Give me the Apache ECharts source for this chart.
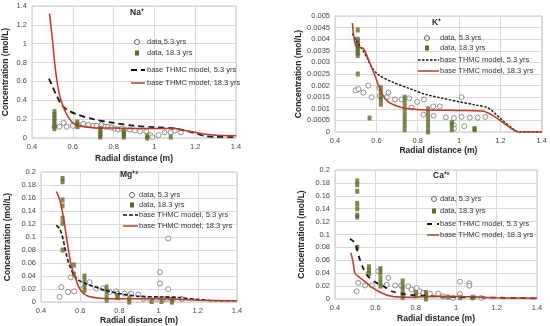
<!DOCTYPE html>
<html><head><meta charset="utf-8">
<script src="https://cdn.jsdelivr.net/npm/echarts@6/dist/echarts.min.js"></script>
<style>html,body{margin:0;padding:0;background:#fff}#c{width:550px;height:326px}</style>
</head><body><div id="c"></div>
<script>
// ---------- DATA ----------
const xTicks = [0.4, 0.6, 0.8, 1.0, 1.2, 1.4];
const panelTitles = ['Na\u207A', 'K\u207A', 'Mg\u207A\u00B2', 'Ca\u207A\u00B2'];
const seriesNames = ['data, 5.3 yrs', 'data, 18.3 yrs', 'base THMC model, 5.3 yrs', 'base THMC model, 18.3 yrs'];
const naLegendNames = ['data,5.3 yrs', 'data, 18.3 yrs', 'base THMC model, 5.3 yrs', 'base THMC model, 18.3 yrs'];

// Na+
const naData53 = [[0.51,0.12],[0.535,0.12],[0.555,0.16],[0.57,0.12],[0.6,0.13],[0.627,0.13],[0.651,0.15],[0.676,0.14],[0.7,0.13],[0.716,0.13],[0.741,0.14],[0.76,0.12],[0.773,0.12],[0.79,0.11],[0.806,0.1],[0.822,0.09],[0.84,0.1],[0.855,0.09],[0.88,0.09],[0.904,0.08],[0.93,0.07],[0.96,0.07],[0.98,0.03],[0.99,0.01],[1.02,0.03],[1.05,0.06],[1.08,0.06],[1.1,0.08],[1.13,0.06]];
const naData183 = [[0.51,0.1],[0.51,0.13],[0.51,0.16],[0.51,0.19],[0.51,0.22],[0.51,0.25],[0.51,0.28],[0.622,0.12],[0.622,0.15],[0.622,0.17],[0.735,0.01],[0.735,0.03],[0.735,0.05],[0.735,0.08],[0.735,0.1],[0.85,0.01],[0.85,0.03],[0.85,0.05],[0.85,0.07],[0.965,0.0],[0.965,0.02],[1.08,0.01]];
const naModel53 = [[0.483,0.63],[0.5,0.55],[0.52,0.45],[0.55,0.34],[0.58,0.29],[0.62,0.25],[0.7,0.2],[0.8,0.16],[0.9,0.13],[1.0,0.115],[1.1,0.1],[1.15,0.08],[1.2,0.05],[1.25,0.02],[1.3,0.012],[1.4,0.01]];
const naModel183 = [[0.486,1.32],[0.5,1.05],[0.513,0.76],[0.525,0.57],[0.537,0.44],[0.55,0.35],[0.57,0.25],[0.6,0.16],[0.63,0.13],[0.7,0.11],[0.8,0.105],[0.9,0.1],[1.0,0.1],[1.1,0.1],[1.15,0.08],[1.2,0.06],[1.25,0.04],[1.3,0.03],[1.4,0.025]];

// K+
const kData53 = [[0.5,0.0018],[0.513,0.00185],[0.537,0.0017],[0.561,0.002],[0.577,0.0015],[0.614,0.0019],[0.617,0.00155],[0.65,0.0015],[0.658,0.0017],[0.69,0.0014],[0.722,0.0014],[0.759,0.00145],[0.77,0.00105],[0.797,0.0013],[0.827,0.00075],[0.83,0.0014],[0.875,0.0011],[0.877,0.0007],[0.907,0.0011],[0.936,0.00063],[0.975,0.0006],[0.975,0.0003],[0.975,0.00015],[1.012,0.0015],[1.012,0.00065],[1.025,0.00025],[1.052,0.00062],[1.09,0.00062],[1.127,0.00065]];
const kData183 = [[0.51,0.0044],[0.51,0.004],[0.51,0.0039],[0.51,0.0038],[0.51,0.0037],[0.51,0.0036],[0.51,0.0035],[0.51,0.0034],[0.51,0.0033],[0.51,0.0025],[0.567,0.0006],[0.622,0.0019],[0.622,0.0017],[0.622,0.0015],[0.622,0.0014],[0.622,0.0012],[0.737,0.0015],[0.737,0.0013],[0.737,0.0011],[0.737,0.0009],[0.737,0.0007],[0.737,0.0005],[0.737,0.0003],[0.737,0.0001],[0.85,0.001],[0.85,0.0008],[0.85,0.0006],[0.85,0.0004],[0.85,0.0002],[0.85,0.0],[0.965,0.0004],[0.965,0.0003],[0.965,0.0001],[1.075,0.0001],[1.075,0.00015]];
const kModel53 = [[0.484,0.00424],[0.505,0.0039],[0.529,0.0036],[0.555,0.0032],[0.577,0.0028],[0.61,0.00246],[0.674,0.00217],[0.755,0.00189],[0.835,0.00163],[0.916,0.00146],[0.997,0.00131],[1.077,0.00117],[1.142,0.00103],[1.206,0.00053],[1.271,0.00007],[1.29,0],[1.4,0]];
const kModel183 = [[0.484,0.0047],[0.494,0.00396],[0.505,0.00367],[0.537,0.0036],[0.569,0.00296],[0.594,0.0024],[0.626,0.00167],[0.658,0.0013],[0.706,0.0011],[0.755,0.001],[0.85,0.00095],[1.0,0.00093],[1.11,0.00091],[1.158,0.00074],[1.239,0.00024],[1.287,0],[1.4,0]];

// Mg+2
const mgData53 = [[0.495,0.008],[0.504,0.023],[0.538,0.0155],[0.552,0.038],[0.569,0.0165],[0.614,0.0206],[0.648,0.0306],[0.682,0.021],[0.716,0.021],[0.75,0.0155],[0.784,0.0165],[0.79,0.013],[0.827,0.013],[0.854,0.0116],[0.861,0.013],[0.896,0.0116],[0.922,0.005],[0.956,0.005],[0.99,0.005],[1.007,0.046],[1.007,0.0286],[1.024,0.005],[1.041,0.005],[1.049,0.0977],[1.049,0.02],[1.075,0.005],[1.118,0.005]];
const mgData183 = [[0.51,0.19],[0.51,0.185],[0.51,0.157],[0.51,0.148],[0.51,0.129],[0.51,0.121],[0.51,0.08],[0.568,0.057],[0.568,0.043],[0.622,0.04],[0.622,0.033],[0.622,0.025],[0.622,0.018],[0.735,0.023],[0.735,0.016],[0.735,0.008],[0.735,0.003],[0.79,0.01],[0.79,0.007],[0.85,0.005],[0.85,0.0],[0.965,0.001],[1.015,0.001],[1.068,0.004],[1.068,0.0]];
const mgModel53 = [[0.478,0.118],[0.495,0.113],[0.51,0.1],[0.53,0.072],[0.545,0.057],[0.565,0.043],[0.59,0.034],[0.63,0.028],[0.68,0.023],[0.73,0.018],[0.8,0.013],[0.9,0.009],[1.0,0.008],[1.1,0.007],[1.2,0.004],[1.3,0.002],[1.4,0.002]];
const mgModel183 = [[0.478,0.17],[0.49,0.162],[0.5,0.152],[0.51,0.138],[0.52,0.12],[0.53,0.1],[0.54,0.08],[0.55,0.063],[0.56,0.05],[0.575,0.038],[0.59,0.025],[0.61,0.015],[0.64,0.009],[0.7,0.006],[0.8,0.005],[1.0,0.005],[1.2,0.003],[1.4,0.002]];

// Ca+2
const caData53 = [[0.507,0.012],[0.515,0.025],[0.549,0.021],[0.565,0.039],[0.582,0.021],[0.614,0.043],[0.656,0.022],[0.664,0.0326],[0.698,0.021],[0.728,0.021],[0.763,0.0197],[0.779,0.0145],[0.804,0.017],[0.82,0.012],[0.837,0.0093],[0.87,0.008],[0.911,0.0083],[0.935,0.004],[0.985,0.0016],[1.019,0.0268],[1.018,0.0078],[1.065,0.0243],[1.065,0.0206],[1.084,0.0026],[1.125,0.0016]];
const caData183 = [[0.51,0.183],[0.51,0.177],[0.51,0.167],[0.51,0.148],[0.51,0.14],[0.51,0.13],[0.51,0.127],[0.51,0.08],[0.568,0.05],[0.568,0.045],[0.568,0.04],[0.625,0.047],[0.625,0.04],[0.625,0.032],[0.625,0.025],[0.625,0.02],[0.735,0.028],[0.735,0.02],[0.735,0.013],[0.735,0.007],[0.735,0.002],[0.8,0.01],[0.8,0.005],[0.85,0.01],[0.85,0.005],[0.85,0.0],[0.96,0.003],[1.02,0.002],[1.08,0.002]];
const caModel53 = [[0.474,0.093],[0.499,0.087],[0.515,0.069],[0.535,0.051],[0.556,0.038],[0.581,0.03],[0.606,0.025],[0.639,0.02],[0.68,0.012],[0.762,0.0067],[0.9,0.004],[1.0,0.003],[1.2,0.002],[1.4,0.001]];
const caModel183 = [[0.479,0.0715],[0.49,0.056],[0.499,0.04],[0.524,0.033],[0.556,0.025],[0.589,0.017],[0.631,0.0093],[0.68,0.0041],[0.762,0.0026],[0.9,0.004],[1.0,0.004],[1.1,0.003],[1.2,0.002],[1.4,0.001]];

const yMax = [1.4, 0.005, 0.2, 0.2];
const yStep = [0.2, 0.0005, 0.02, 0.02];

// ---------- LAYOUT / STYLE ----------
const FONT = 'Liberation Sans, Arial, sans-serif';
const CIRCLE_C = '#666', SQUARE_C = '#5e6a26', DASH_C = '#111', SOLID_C = '#a2452a';
const grids = [
  {left:32, top:6, width:204, height:132},
  {left:335, top:16, width:207, height:116},
  {left:41, top:172, width:196, height:133},
  {left:335, top:170, width:202, height:129}
];
const yNameGap = [22, 30, 29, 29];
const xNameGap = [16, 14, 12, 15];
const dashes = [[6,4],[2.5,1.5],[4,2],[5,5]];
const dashW = [1.8,1.4,1.6,1.8];
// legend layout: symbol x, line x0/x1, text x, row y's
const legendLayout = [
  {sx:137, lx0:131, lx1:145, tx:147, ys:[42,53,70,83]},
  {sx:427, lx0:418, lx1:439, tx:440, ys:[38,48,60,71]},
  {sx:132, lx0:123, lx1:138, tx:139, ys:[195,205,215,226]},
  {sx:434, lx0:427, lx1:439, tx:440, ys:[199,211,224,235]}
];
const titlePos = [[130,8],[432,18],[120,170],[433,171]];

const allData = [
  [naData53, naData183, naModel53, naModel183],
  [kData53, kData183, kModel53, kModel183],
  [mgData53, mgData183, mgModel53, mgModel183],
  [caData53, caData183, caModel53, caModel183]
];

const graphics = [];
legendLayout.forEach((L,i)=>{
  const names = i===0 ? naLegendNames : seriesNames;
  graphics.push({type:'circle', z:100, shape:{cx:L.sx, cy:L.ys[0], r:2.5}, style:{fill:'#fff', stroke:CIRCLE_C, lineWidth:1}});
  graphics.push({type:'rect', z:100, shape:{x:L.sx-2, y:L.ys[1]-2.5, width:4, height:5}, style:{fill:SQUARE_C}});
  graphics.push({type:'line', z:100, shape:{x1:L.lx0, y1:L.ys[2], x2:L.lx1, y2:L.ys[2]}, style:{stroke:DASH_C, lineWidth:dashW[i], lineDash:dashes[i]}});
  graphics.push({type:'line', z:100, shape:{x1:L.lx0, y1:L.ys[3], x2:L.lx1, y2:L.ys[3]}, style:{stroke:SOLID_C, lineWidth:1.5}});
  names.forEach((n,k)=>{
    graphics.push({type:'text', z:100, x:L.tx, y:L.ys[k], style:{text:n, fill:'#333', font:'7.5px '+FONT, verticalAlign:'middle', align:'left'}});
  });
});

const option = {
  animation:false,
  backgroundColor:'#fff',
  textStyle:{fontFamily:FONT},
  grid: grids.map(g => Object.assign({show:true, borderColor:'#c4c4c4', borderWidth:1, backgroundColor:'transparent'}, g)),
  title: panelTitles.map((t,i)=>({text:t, left:titlePos[i][0], top:titlePos[i][1], padding:0,
     textStyle:{fontSize:8.5, fontWeight:'bold', color:'#222', fontFamily:FONT}})),
  xAxis: grids.map((g,i)=>({type:'value', gridIndex:i, min:xTicks[0], max:xTicks[xTicks.length-1], interval:0.2,
     name:'Radial distance (m)', nameLocation:'middle', nameGap:xNameGap[i],
     nameTextStyle:{fontSize:8.5, fontWeight:'bold', color:'#222'},
     axisLine:{show:false}, axisTick:{show:false},
     axisLabel:{fontSize:7.5, color:'#444', margin:5},
     splitLine:{lineStyle:{color:'#d9d9d9'}}})),
  yAxis: grids.map((g,i)=>({type:'value', gridIndex:i, min:0, max:yMax[i], interval:yStep[i],
     name:'Concentration (mol/L)', nameLocation:'middle', nameGap:yNameGap[i],
     nameTextStyle:{fontSize:8.5, fontWeight:'bold', color:'#222'},
     axisLine:{show:false}, axisTick:{show:false},
     axisLabel:{fontSize:7.5, color:'#444', margin:5},
     splitLine:{lineStyle:{color:'#d9d9d9'}}})),
  graphic: graphics,
  series: []
};

allData.forEach((d,i)=>{
  option.series.push({name:seriesNames[0], type:'scatter', xAxisIndex:i, yAxisIndex:i, data:d[0],
     symbol:'circle', symbolSize:5, itemStyle:{color:'#fff', borderColor:CIRCLE_C, borderWidth:0.9}, z:3});
  option.series.push({name:seriesNames[1], type:'scatter', xAxisIndex:i, yAxisIndex:i, data:d[1],
     symbol:'rect', symbolSize:[4,5], itemStyle:{color:SQUARE_C}, z:4});
  option.series.push({name:seriesNames[2], type:'line', xAxisIndex:i, yAxisIndex:i, data:d[2],
     symbol:'none', smooth:0.3, lineStyle:{color:DASH_C, width:dashW[i], type:dashes[i]}, z:5});
  option.series.push({name:seriesNames[3], type:'line', xAxisIndex:i, yAxisIndex:i, data:d[3],
     symbol:'none', smooth:0.3, lineStyle:{color:SOLID_C, width:1.5, shadowColor:'rgba(255,150,190,0.55)', shadowBlur:6}, z:6});
});

echarts.init(document.getElementById('c'), null, {renderer:'canvas'}).setOption(option);
</script></body></html>
